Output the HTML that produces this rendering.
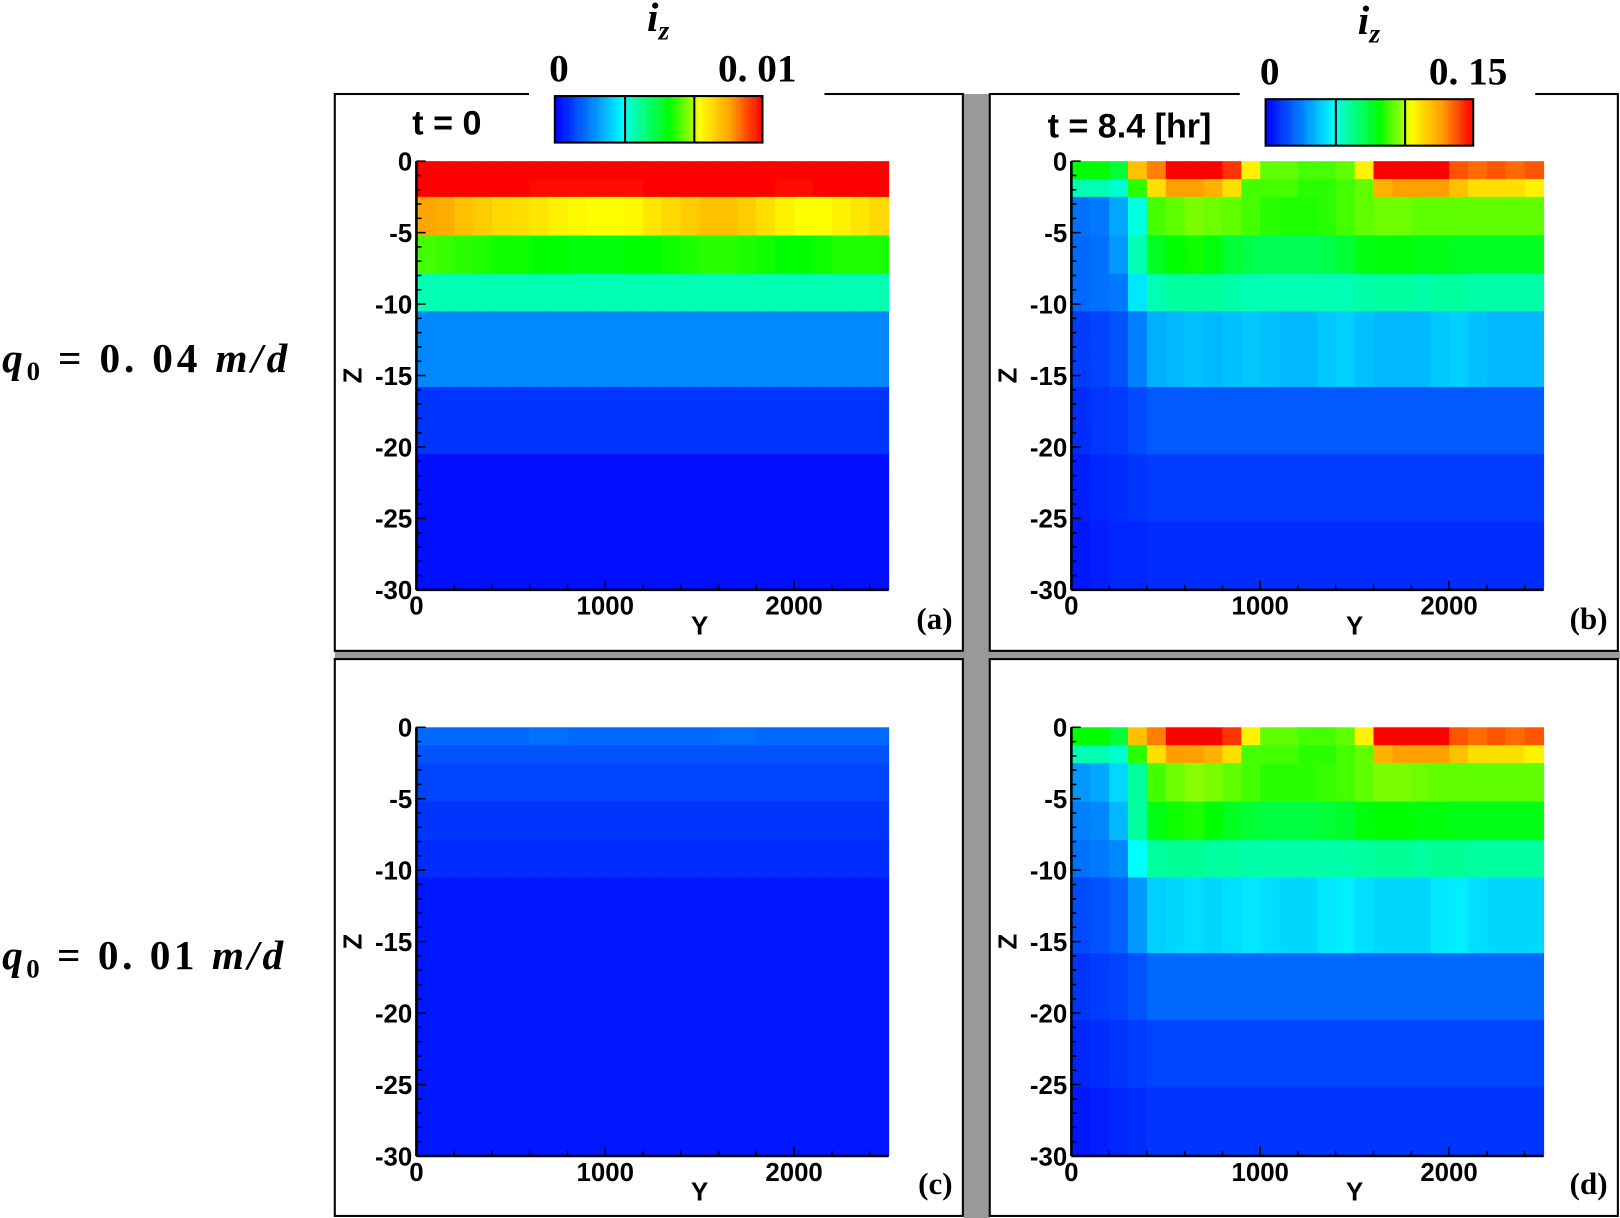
<!DOCTYPE html>
<html><head><meta charset="utf-8"><style>
html,body{margin:0;padding:0;background:#fff;}
svg{display:block;}
.tk{font-family:"Liberation Sans",sans-serif;font-weight:bold;fill:#000;}
.ser{font-family:"Liberation Serif",serif;font-weight:bold;fill:#000;}
</style></head><body>
<svg id="fig" width="1620" height="1218" viewBox="0 0 1568 1179" xmlns="http://www.w3.org/2000/svg">
<rect x="0" y="0" width="1568" height="1179" fill="#fff"/>
<rect x="933" y="91" width="25" height="1088" fill="#999"/>
<rect x="324" y="630" width="1244" height="8" fill="#999"/>
<text class="ser" x="2" y="360" style="font-size:40px" textLength="276" font-style="italic">q<tspan style="font-size:26px" font-style="normal" dy="8">0</tspan><tspan font-style="normal" dy="-8"> = 0. 04 </tspan>m/d</text>
<text class="ser" x="2" y="938" style="font-size:40px" textLength="272" font-style="italic">q<tspan style="font-size:26px" font-style="normal" dy="8">0</tspan><tspan font-style="normal" dy="-8"> = 0. 01 </tspan>m/d</text>
<g id="panels"></g>
</svg>
<script>
const zEdges=[0,-1.25,-2.5,-5.2,-7.9,-10.5,-15.8,-20.5,-25.2,-30];
const yEdges=[0,100,200,300,400,500,600,700,800,900,1000,1100,1200,1300,1400,1500,1600,1700,1800,1900,2000,2100,2200,2300,2400,2500];
const yTicks=[0,1000,2000];
const zTicks=[0,-5,-10,-15,-20,-25,-30];
const valsA=[
[1,1,1,1,1,1,1,1,1,1,1,1,1,1,1,1,1,1,1,1,1,1,1,1,1],
[1,1,1,1,1,1,.99,.99,.99,.99,.99,.99,1,1,1,1,1,1,1,.99,.99,1,1,1,1],
[.84,.83,.8,.78,.76,.75,.74,.72,.71,.7,.7,.71,.74,.76,.78,.8,.8,.78,.75,.72,.7,.7,.72,.74,.76],
[.6,.59,.58,.57,.56,.56,.55,.55,.54,.54,.54,.55,.55,.56,.57,.58,.58,.57,.56,.55,.55,.56,.57,.57,.57],
[.38,.38,.38,.38,.38,.38,.38,.38,.38,.38,.38,.38,.38,.38,.38,.38,.38,.38,.38,.38,.38,.38,.38,.38,.38],
[.18,.18,.18,.18,.18,.18,.18,.18,.18,.18,.18,.18,.18,.18,.18,.18,.18,.18,.18,.18,.18,.18,.18,.18,.18],
[.07,.07,.07,.07,.07,.07,.07,.07,.07,.07,.07,.07,.07,.07,.07,.07,.07,.07,.07,.07,.07,.07,.07,.07,.07],
[.02,.02,.02,.02,.02,.02,.02,.02,.02,.02,.02,.02,.02,.02,.02,.02,.02,.02,.02,.02,.02,.02,.02,.02,.02],
[.02,.02,.02,.02,.02,.02,.02,.02,.02,.02,.02,.02,.02,.02,.02,.02,.02,.02,.02,.02,.02,.02,.02,.02,.02]];
const valsB=[
[.55,.55,.5,.8,.88,1,1,1,.95,.72,.62,.62,.6,.6,.62,.72,1,1,1,1,.92,.9,.92,.9,.92],
[.38,.38,.36,.58,.75,.85,.85,.82,.75,.6,.6,.6,.58,.58,.6,.62,.82,.85,.85,.85,.8,.75,.75,.75,.72],
[.15,.16,.22,.35,.6,.62,.64,.63,.62,.6,.58,.57,.57,.58,.6,.62,.63,.63,.62,.62,.62,.62,.62,.62,.62],
[.14,.15,.2,.38,.52,.55,.56,.54,.5,.48,.47,.47,.47,.48,.5,.53,.54,.54,.53,.53,.52,.52,.52,.52,.52],
[.14,.15,.16,.3,.38,.4,.4,.4,.39,.38,.38,.38,.38,.38,.38,.39,.4,.4,.39,.4,.4,.39,.39,.39,.39],
[.08,.09,.11,.17,.23,.24,.25,.24,.25,.26,.25,.24,.24,.26,.27,.25,.24,.24,.24,.26,.27,.25,.24,.24,.24],
[.06,.07,.08,.1,.12,.12,.12,.12,.12,.12,.12,.12,.12,.12,.12,.12,.12,.12,.12,.12,.12,.12,.12,.12,.12],
[.04,.05,.06,.07,.08,.08,.08,.08,.08,.08,.08,.08,.08,.08,.08,.08,.08,.08,.08,.08,.08,.08,.08,.08,.08],
[.03,.04,.05,.05,.06,.06,.06,.06,.06,.06,.06,.06,.06,.06,.06,.06,.06,.06,.06,.06,.06,.06,.06,.06,.06]];
const valsC=[
[.14,.14,.14,.14,.14,.14,.15,.15,.14,.14,.14,.14,.14,.14,.14,.14,.15,.15,.14,.14,.14,.14,.14,.14,.14],
[.11,.11,.11,.11,.11,.11,.11,.11,.11,.11,.11,.11,.11,.11,.11,.11,.11,.11,.11,.11,.11,.11,.11,.11,.11],
[.09,.09,.09,.09,.09,.09,.09,.09,.09,.09,.09,.09,.09,.09,.09,.09,.09,.09,.09,.09,.09,.09,.09,.09,.09],
[.07,.07,.07,.07,.07,.07,.07,.07,.07,.07,.07,.07,.07,.07,.07,.07,.07,.07,.07,.07,.07,.07,.07,.07,.07],
[.06,.06,.06,.06,.06,.06,.06,.06,.06,.06,.06,.06,.06,.06,.06,.06,.06,.06,.06,.06,.06,.06,.06,.06,.06],
[.03,.03,.03,.03,.03,.03,.03,.03,.03,.03,.03,.03,.03,.03,.03,.03,.03,.03,.03,.03,.03,.03,.03,.03,.03],
[.03,.03,.03,.03,.03,.03,.03,.03,.03,.03,.03,.03,.03,.03,.03,.03,.03,.03,.03,.03,.03,.03,.03,.03,.03],
[.03,.03,.03,.03,.03,.03,.03,.03,.03,.03,.03,.03,.03,.03,.03,.03,.03,.03,.03,.03,.03,.03,.03,.03,.03],
[.03,.03,.03,.03,.03,.03,.03,.03,.03,.03,.03,.03,.03,.03,.03,.03,.03,.03,.03,.03,.03,.03,.03,.03,.03]];
const valsD=[
[.55,.55,.5,.8,.88,1,1,1,.95,.72,.62,.62,.6,.6,.62,.72,1,1,1,1,.92,.9,.92,.9,.92],
[.38,.38,.36,.58,.75,.85,.85,.82,.75,.6,.6,.6,.58,.58,.6,.62,.82,.85,.85,.85,.8,.75,.75,.75,.72],
[.2,.22,.28,.4,.6,.63,.65,.64,.62,.6,.58,.58,.58,.59,.6,.62,.64,.64,.63,.62,.62,.62,.62,.62,.62],
[.17,.18,.24,.4,.53,.56,.57,.55,.52,.5,.49,.49,.49,.5,.51,.54,.55,.55,.54,.54,.53,.53,.53,.53,.53],
[.15,.16,.18,.33,.4,.41,.41,.4,.4,.39,.39,.39,.39,.39,.39,.4,.41,.41,.4,.41,.41,.4,.4,.4,.4],
[.1,.11,.13,.2,.27,.28,.29,.28,.29,.3,.29,.28,.28,.3,.31,.29,.28,.28,.28,.3,.31,.29,.28,.28,.28],
[.07,.08,.09,.11,.14,.14,.14,.14,.14,.14,.14,.14,.14,.14,.14,.14,.14,.14,.14,.14,.14,.14,.14,.14,.14],
[.05,.06,.07,.08,.09,.09,.09,.09,.09,.09,.09,.09,.09,.09,.09,.09,.09,.09,.09,.09,.09,.09,.09,.09,.09],
[.03,.04,.05,.06,.07,.07,.07,.07,.07,.07,.07,.07,.07,.07,.07,.07,.07,.07,.07,.07,.07,.07,.07,.07,.07]];
const cbStops=[[0,0,0,255],[0.17,0,128,255],[0.33,0,255,255],[0.37,0,255,190],[0.55,0,255,0],[0.66,150,255,0],[0.7,255,255,0],[0.85,255,160,0],[1,255,0,0]];

function cmap(v){
  v=Math.max(0,Math.min(1,v));
  for(let i=1;i<cbStops.length;i++){
    if(v<=cbStops[i][0]){const a=cbStops[i-1],b=cbStops[i],t=(v-a[0])/(b[0]-a[0]);
      return `rgb(${Math.round(a[1]+t*(b[1]-a[1]))},${Math.round(a[2]+t*(b[2]-a[2]))},${Math.round(a[3]+t*(b[3]-a[3]))})`;}
  }
  return 'rgb(255,0,0)';
}
const NS='http://www.w3.org/2000/svg';
function mk(tag,attrs,parent){const e=document.createElementNS(NS,tag);for(const k in attrs)e.setAttribute(k,attrs[k]);parent.appendChild(e);return e;}
const root=document.getElementById('panels');
const panels=[
 {id:'a',fx:324,fy:91,px:403,py:156,vals:valsA,cb:true,cbx:537,cby:93,gap:[512,798],cbmax:'0.01',title:'t = 0',tx:399},
 {id:'b',fx:958,fy:91,px:1037,py:156,vals:valsB,cb:true,cbx:1225,cby:96,gap:[1200,1486],cbmax:'0.15',title:'t = 8.4 [hr]',tx:1014},
 {id:'c',fx:324,fy:638,px:403,py:704,vals:valsC,cb:false},
 {id:'d',fx:958,fy:638,px:1037,py:704,vals:valsD,cb:false}
];
const PW=457,PH=415;
panels.forEach(p=>{
  const g=mk('g',{},root);
  
  
  const fr=mk('rect',{x:p.fx,y:p.fy,width:608,height:539,fill:'#fff',stroke:'#000','stroke-width':2},g);
  
  
  const xs=y=>p.px+(y-0)/2500*PW;
  const zs=z=>p.py+(0-z)/30*PH;
  const hm=mk('g',{},g);
  
  
  for(let j=0;j<zEdges.length-1;j++){
    for(let i=0;i<yEdges.length-1;i++){
      const x0=xs(yEdges[i]),x1=xs(yEdges[i+1]),y0=zs(zEdges[j]),y1=zs(zEdges[j+1]);
      const c=mk('rect',{x:x0,y:y0,width:x1-x0+0.6,height:y1-y0+0.6,fill:cmap(p.vals[j][i])},hm);
      
      
    }
  }
  mk('line',{x1:p.px,y1:p.py,x2:p.px,y2:p.py+PH,stroke:'#000','stroke-width':2.5},g);
  mk('line',{x1:p.px,y1:p.py+PH,x2:p.px+PW,y2:p.py+PH,stroke:'#000','stroke-width':2.5},g);
  for(let z=0;z>=-30;z--){
    const major=z%5===0;
    mk('line',{x1:p.px,x2:p.px+(major?9:5),y1:zs(z),y2:zs(z),stroke:'#000','stroke-width':1.5},g);
  }
  for(let y=0;y<=2500;y+=200){
    mk('line',{x1:xs(y),x2:xs(y),y1:p.py+PH,y2:p.py+PH-5,stroke:'#000','stroke-width':1.5},g);
  }
  yTicks.forEach(y=>{
    mk('line',{x1:xs(y),x2:xs(y),y1:p.py+PH,y2:p.py+PH-9,stroke:'#000','stroke-width':1.5},g);
    const t=mk('text',{x:xs(y),y:p.py+PH+24,'text-anchor':'middle',class:'tk',style:'font-size:25px'},g);
    t.textContent=y;
    
    
  });
  zTicks.forEach(z=>{
    const t=mk('text',{x:p.px-4,y:zs(z)+9,'text-anchor':'end',class:'tk',style:'font-size:25px'},g);
    t.textContent=z;
    
    
  });
  const zl=mk('text',{x:0,y:0,class:'tk',style:'font-size:25px','text-anchor':'middle',transform:`translate(${p.px-53},${zs(-15)}) rotate(-90)`},g);
  zl.textContent='Z';
  
  
  const yl=mk('text',{x:xs(1500),y:p.py+PH+43,'text-anchor':'middle',class:'tk',style:'font-size:25px'},g);
  yl.textContent='Y';
  
  
  const pl=mk('text',{x:p.fx+598,y:p.fy+518,'text-anchor':'end',class:'ser',style:'font-size:30px'},g);
  pl.textContent='('+p.id+')';
  
  
  if(p.cb){
    mk('rect',{x:p.gap[0],y:p.fy-2,width:p.gap[1]-p.gap[0],height:4,fill:'#fff'},g);
    const cg=mk('g',{},g);
    
    
    for(let k=0;k<100;k++){
      mk('rect',{x:p.cbx+k*2.01,y:p.cby,width:2.2,height:45,fill:cmap(k/99)},cg);
    }
    mk('rect',{x:p.cbx,y:p.cby,width:201,height:45,fill:'none',stroke:'#000','stroke-width':2},cg);
    mk('line',{x1:p.cbx+68,x2:p.cbx+68,y1:p.cby,y2:p.cby+45,stroke:'#000','stroke-width':2},cg);
    mk('line',{x1:p.cbx+135,x2:p.cbx+135,y1:p.cby,y2:p.cby+45,stroke:'#000','stroke-width':2},cg);
    const l0=mk('text',{x:p.cbx+4,y:p.cby-14,'text-anchor':'middle',class:'ser',style:'font-size:38px'},cg);
    l0.textContent='0';
    
    
    const l1=mk('text',{x:p.cbx+196,y:p.cby-14,'text-anchor':'middle',class:'ser',style:'font-size:38px'},cg);
    l1.textContent=p.cbmax.replace('.','. ');
    
    
    const ti=mk('text',{x:p.cbx+100,y:p.cby-63,'text-anchor':'middle',class:'ser',style:'font-size:40px','font-style':'italic'},cg);
    ti.innerHTML='i<tspan style="font-size:27px" dy="8">z</tspan>';
    
    
    const tt=mk('text',{x:p.tx,y:p.cby+37,class:'tk',style:'font-size:33px'},g);
    tt.textContent=p.title;
    
    
  }
});
</script>
</body></html>
